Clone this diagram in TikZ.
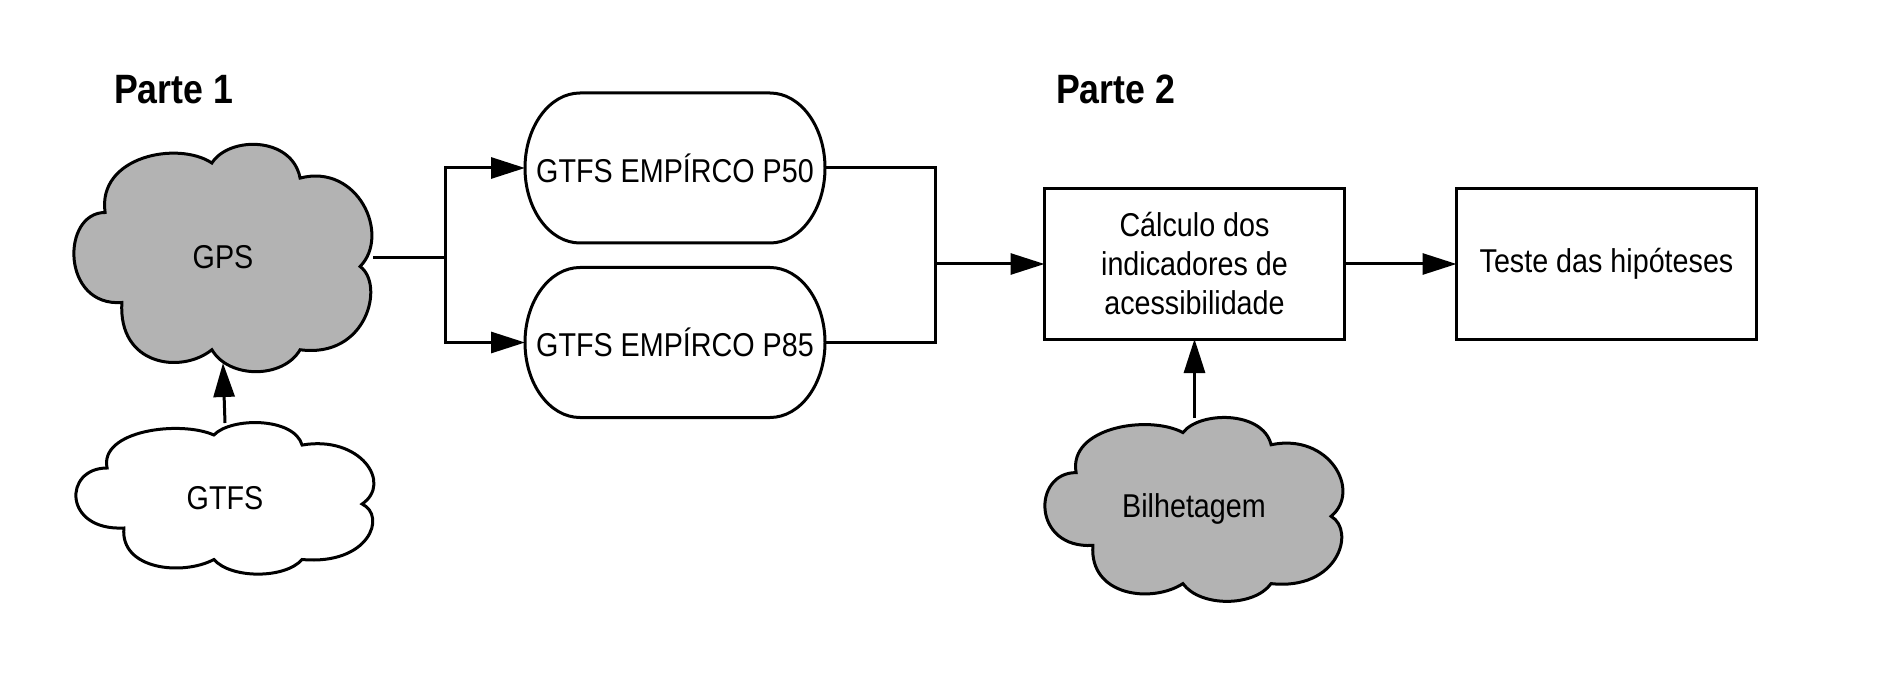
\documentclass[tikz,border=0pt]{standalone}
\usepackage{fontspec}
\setmainfont{Liberation Sans}[FakeStretch=0.87]
\usetikzlibrary{arrows.meta,calc}
\pgfdeclarelayer{bg}
\pgfdeclarelayer{mid}
\pgfsetlayers{bg,mid,main}
\definecolor{cloudgray}{RGB}{179,179,179}
% cloud outline drawn over the box of a named node: name, width, height, fill
\newcommand\mycloud[4]{%
  \draw[line width=3pt, fill=#4, shift={(#1.north west)}, x=#2pt, y=-#3pt]
    (0.107,0.30) .. controls (0.08,0.05) and (0.35,-0.02) .. (0.463,0.08)
    .. controls (0.52,-0.04) and (0.73,-0.04) .. (0.757,0.147)
    .. controls (0.95,0.08) and (1.06,0.40) .. (0.957,0.54)
    .. controls (1.04,0.62) and (0.98,0.95) .. (0.757,0.91)
    .. controls (0.70,1.04) and (0.52,1.04) .. (0.463,0.91)
    .. controls (0.36,1.02) and (0.15,0.98) .. (0.163,0.70)
    .. controls (-0.04,0.72) and (-0.04,0.30) .. cycle;}
% pill outline around a named node
\newcommand\mypill[1]{%
  \draw[line width=3pt] ($(#1.north west)+(55,0)$) -- ($(#1.north east)+(-55,0)$)
    .. controls ($(#1.north east)+(-24.6,0)$) and ($(#1.east)+(0,-41.4)$) .. (#1.east)
    .. controls ($(#1.east)+(0,41.4)$) and ($(#1.south east)+(-24.6,0)$) .. ($(#1.south east)+(-55,0)$)
    -- ($(#1.south west)+(55,0)$)
    .. controls ($(#1.south west)+(24.6,0)$) and ($(#1.west)+(0,41.4)$) .. (#1.west)
    .. controls ($(#1.west)+(0,-41.4)$) and ($(#1.north west)+(24.6,0)$) .. cycle;}
\begin{document}
\begin{tikzpicture}[x=1pt,y=-1pt,line width=3pt,
  every node/.style={inner sep=0pt,outer sep=0pt,font=\fontsize{33}{39}\selectfont},
  cloudnode/.style={minimum width=300pt},
  pillnode/.style={minimum width=300pt,minimum height=150pt},
  boxnode/.style={draw,line width=3pt,minimum width=300pt,minimum height=150pt,align=center},
  titletext/.style={font=\fontsize{41}{48}\selectfont\bfseries,anchor=base west},
  conn/.style={line width=3pt,line join=miter},
  arr/.style={conn,-{Triangle[length=34pt,width=21pt]}}]
\useasboundingbox (0,0) rectangle (1888,679);

% nodes
\node[cloudnode,minimum height=225pt] (gps) at (223,257.5) {GPS};
\node[cloudnode,minimum height=150pt] (gtfs) at (225,498) {GTFS};
\node[cloudnode,minimum height=182pt] (bilh) at (1194,509) {Bilhetagem};
\node[pillnode] (p50) at (675,168) {GTFS EMPÍRCO P50};
\node[pillnode] (p85) at (675,342.5) {GTFS EMPÍRCO P85};
\node[boxnode] (calc) at (1194.5,264) {Cálculo dos\\indicadores de\\acessibilidade};
\node[boxnode] (teste) at (1606.5,264) {Teste das hipóteses};
\node[titletext] (parte1) at (114,104) {Parte 1};
\node[titletext] (parte2) at (1056,104) {Parte 2};

% shapes
\begin{pgfonlayer}{mid}
\mycloud{gps}{300}{225}{cloudgray}
\mycloud{gtfs}{300}{150}{white}
\mycloud{bilh}{300}{182}{cloudgray}
\end{pgfonlayer}
\mypill{p50}
\mypill{p85}

% connectors
\begin{pgfonlayer}{bg}
\coordinate (j1) at (445,257.5);
\coordinate (j2) at (935,264);
\draw[conn] (gps.east) -- (j1);
\draw[arr] (j1) |- (p50.west);
\draw[arr] (j1) |- (p85.west);
\draw[conn] (p50.east) -| (j2) |- (p85.east);
\draw[arr] (j2) -- (calc.west);
\draw[arr] (calc.east) -- (teste.west);
\draw[arr] (bilh.north -| calc.south) -- (calc.south);
\draw[arr] (gtfs.north) -- ([yshift=7pt]gps.south);
\end{pgfonlayer}
\end{tikzpicture}
\end{document}
